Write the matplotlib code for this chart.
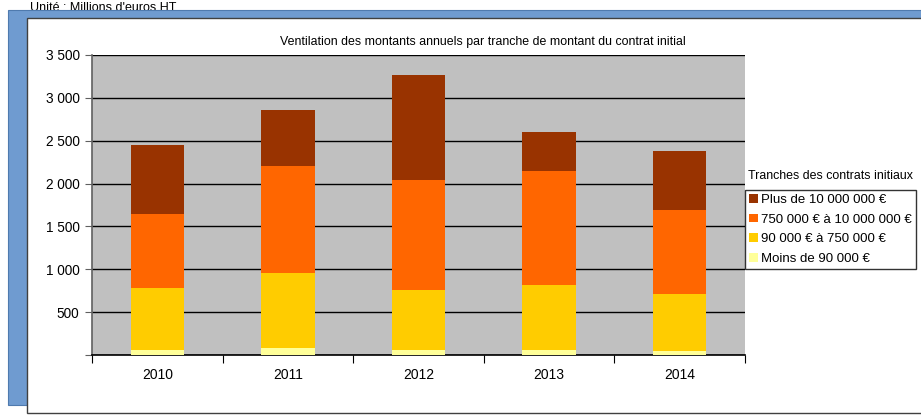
import numpy as np
import matplotlib
matplotlib.use("Agg")
import matplotlib.pyplot as plt
from matplotlib.patches import Rectangle, Patch

plt.rcParams['font.family'] = ['Liberation Sans', 'DejaVu Sans']

years = ['2010', '2011', '2012', '2013', '2014']
moins_90k = [58, 82, 58, 58, 47]
de_90k_750k = [724, 875, 700, 759, 665]
de_750k_10m = [863, 1252, 1284, 1330, 980]
plus_10m = [805, 649, 1225, 455, 688]

series = [
    ('Moins de 90 000 €', moins_90k, '#FFFF99'),
    ('90 000 € à 750 000 €', de_90k_750k, '#FFCC00'),
    ('750 000 € à 10 000 000 €', de_750k_10m, '#FF6600'),
    ('Plus de 10 000 000 €', plus_10m, '#993300'),
]
yticks = [0, 500, 1000, 1500, 2000, 2500, 3000, 3500]
ytick_labels = ['', '500', '1 000', '1 500', '2 000', '2 500', '3 000', '3 500']

W, H = 921, 415
fig = plt.figure(figsize=(W / 100, H / 100), dpi=100)

# header text, partly hidden by the blue frame
fig.text(30 / W, 1 - 2 / H, "Unité : Millions d'euros HT", fontsize=9, va='top', ha='left', zorder=0)

# blue frame and white panel
fig.patches.append(Rectangle((8 / W, 1 - 405 / H), 1, 395 / H, transform=fig.transFigure,
                             facecolor='#6F9BD0', edgecolor='#4F7AAE', lw=0.8, zorder=1))
fig.patches.append(Rectangle((27 / W, 1 - 413 / H), 1, 395 / H, transform=fig.transFigure,
                             facecolor='white', edgecolor='#404040', lw=1.0, zorder=2))

ax = fig.add_axes([92 / W, 1 - 355 / H, 653 / W, 300 / H], zorder=3)
ax.set_facecolor('#C0C0C0')

x = np.arange(len(years))
bottom = np.zeros(len(years))
for name, vals, col in series:
    ax.bar(x, vals, width=0.41, bottom=bottom, color=col, edgecolor='none', zorder=3)
    bottom += np.array(vals)

ax.set_xlim(-0.5, 4.5)
ax.set_ylim(0, 3500)
ax.set_yticks(yticks)
ax.set_yticklabels(ytick_labels, fontsize=9.8)
ax.yaxis.grid(True, color='black', lw=1.0, zorder=1)
ax.set_axisbelow(True)

ax.set_xticks(np.arange(-0.5, 5, 1))
ax.set_xticklabels([])
ax.set_xticks(x, minor=True)
ax.set_xticklabels(years, minor=True, fontsize=10)
ax.tick_params(axis='x', which='minor', length=0, pad=9)
ax.tick_params(axis='x', which='major', length=6, color='black')
ax.tick_params(axis='y', length=5, color='#606060', pad=4)

for s in ['top', 'right']:
    ax.spines[s].set_visible(False)
ax.spines['left'].set_color('#606060')
ax.spines['left'].set_linewidth(1.2)
ax.spines['bottom'].set_color('black')
ax.spines['bottom'].set_linewidth(1.2)

fig.text(483 / W, 1 - 42 / H,
         'Ventilation des montants annuels par tranche de montant du contrat initial',
         fontsize=8.9, ha='center', va='center', zorder=4)

fig.text(748 / W, 1 - 176 / H, 'Tranches des contrats initiaux', fontsize=8.9,
         ha='left', va='center', zorder=4)

order = [s[0] for s in series][::-1]
leg_handles = [Patch(facecolor=c, edgecolor='none') for n, v, c in series][::-1]
leg = fig.legend(leg_handles, order, loc='upper left',
                 bbox_to_anchor=(745 / W, 1 - 190 / H), fontsize=9.5,
                 frameon=True, fancybox=False, edgecolor='black',
                 handlelength=0.65, handleheight=0.65, handletextpad=0.3,
                 labelspacing=0.58, borderpad=0.3, borderaxespad=0)
leg.get_frame().set_linewidth(1.0)
leg.set_zorder(5)

fig.savefig('out.png', dpi=100)
